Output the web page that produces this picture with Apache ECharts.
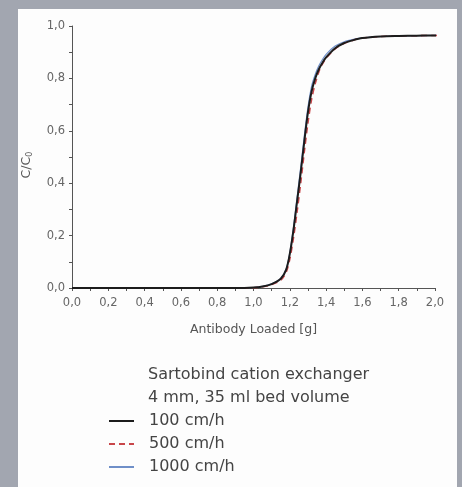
<!DOCTYPE html>
<html>
<head>
<meta charset="utf-8">
<script src="https://cdn.jsdelivr.net/npm/echarts@6/dist/echarts.min.js"></script>
<style>
html,body{margin:0;padding:0;background:#a2a6b0;}
#c{width:462px;height:487px;}
</style>
</head>
<body>
<div id="c"></div>
<script>
const antibodyLoaded = [0, 0.9, 1.0, 1.05, 1.1, 1.15, 1.18, 1.2, 1.22, 1.24, 1.26, 1.28, 1.3, 1.32, 1.34, 1.36, 1.38, 1.4, 1.45, 1.5, 1.55, 1.6, 1.7, 1.8, 1.9, 2.0, 2.06];
const c100 = [0, 0, 0.002, 0.006, 0.015, 0.035, 0.07, 0.13, 0.22, 0.33, 0.44, 0.56, 0.67, 0.75, 0.80, 0.835, 0.86, 0.88, 0.915, 0.935, 0.946, 0.954, 0.96, 0.962, 0.963, 0.964, 0.964];
const c500 = [0, 0, 0.001, 0.005, 0.013, 0.03, 0.06, 0.11, 0.19, 0.29, 0.40, 0.52, 0.63, 0.72, 0.78, 0.825, 0.855, 0.877, 0.913, 0.934, 0.946, 0.954, 0.96, 0.962, 0.963, 0.964, 0.964];
const c1000 = [0, 0, 0.002, 0.006, 0.016, 0.037, 0.072, 0.135, 0.23, 0.345, 0.46, 0.58, 0.69, 0.77, 0.815, 0.848, 0.872, 0.892, 0.924, 0.94, 0.949, 0.955, 0.96, 0.962, 0.963, 0.964, 0.964];
const seriesNames = ['100 cm/h', '500 cm/h', '1000 cm/h'];
const titleLines = ['Sartobind cation exchanger', '4 mm, 35 ml bed volume'];

const pairs = ys => antibodyLoaded.map((x, i) => [x, ys[i]]);
const fmt = v => v.toFixed(1).replace('.', ',');
const FONT = '"DejaVu Sans", sans-serif';

const chart = echarts.init(document.getElementById('c'));
chart.setOption({
  backgroundColor: '#a2a6b0',
  animation: false,
  graphic: [{
    type: 'rect', z: -10, silent: true,
    shape: { x: 18, y: 9, width: 439, height: 480 },
    style: { fill: '#fdfdfd' }
  }],
  title: {
    text: titleLines.join('\n'),
    left: 143, top: 358,
    textStyle: { fontFamily: FONT, fontSize: 16, fontWeight: 'normal', color: '#444', lineHeight: 23.5 }
  },
  legend: {
    orient: 'vertical',
    left: 108, top: 412, padding: 0,
    itemWidth: 25, itemHeight: 14, itemGap: 5,
    data: seriesNames,
    itemStyle: { opacity: 0 },
    textStyle: { fontFamily: FONT, fontSize: 16, lineHeight: 18, color: '#444', padding: [0, 0, 0, 10] }
  },
  grid: { left: 72, right: 27, top: 26, bottom: 199 },
  xAxis: {
    type: 'value', min: 0, max: 2, interval: 0.2,
    name: 'Antibody Loaded [g]', nameLocation: 'middle', nameGap: 35,
    nameTextStyle: { fontFamily: FONT, fontSize: 12.5, color: '#555' },
    axisLine: { lineStyle: { color: '#555', width: 1 } },
    axisTick: { show: true, length: 3, lineStyle: { color: '#555' } },
    minorTick: { show: true, splitNumber: 2, length: 3, lineStyle: { color: '#555' } },
    splitLine: { show: false },
    axisLabel: { formatter: fmt, fontFamily: FONT, fontSize: 11.5, color: '#666', margin: 9 }
  },
  yAxis: {
    type: 'value', min: 0, max: 1, interval: 0.2,
    name: 'C/C{sub|0}', nameLocation: 'middle', nameGap: 38, nameRotate: 90,
    nameTextStyle: { fontFamily: FONT, fontSize: 12.5, color: '#555', padding: [0, 16, 0, 0],
      rich: { sub: { fontSize: 8, verticalAlign: 'bottom', padding: [6, 0, 0, 0], fontFamily: FONT, color: '#555' } } },
    axisLine: { show: true, lineStyle: { color: '#555', width: 1 } },
    axisTick: { show: true, length: 3, lineStyle: { color: '#555' } },
    minorTick: { show: true, splitNumber: 2, length: 3, lineStyle: { color: '#555' } },
    splitLine: { show: false },
    axisLabel: { formatter: fmt, fontFamily: FONT, fontSize: 11.5, color: '#666', margin: 7 }
  },
  series: [
    { name: seriesNames[2], type: 'line', data: pairs(c1000), smooth: 0.3, symbol: 'none', clip: false, z: 2,
      lineStyle: { color: '#6f8fc8', width: 1.2 }, itemStyle: { color: '#6f8fc8' } },
    { name: seriesNames[1], type: 'line', data: pairs(c500), smooth: 0.3, symbol: 'none', clip: false, z: 3,
      lineStyle: { color: '#c8464a', width: 1.6, type: [6, 4] }, itemStyle: { color: '#c8464a' } },
    { name: seriesNames[0], type: 'line', data: pairs(c100), smooth: 0.3, symbol: 'none', clip: false, z: 4,
      lineStyle: { color: '#1c1c1c', width: 2 }, itemStyle: { color: '#1c1c1c' } }
  ]
});
</script>
</body>
</html>
